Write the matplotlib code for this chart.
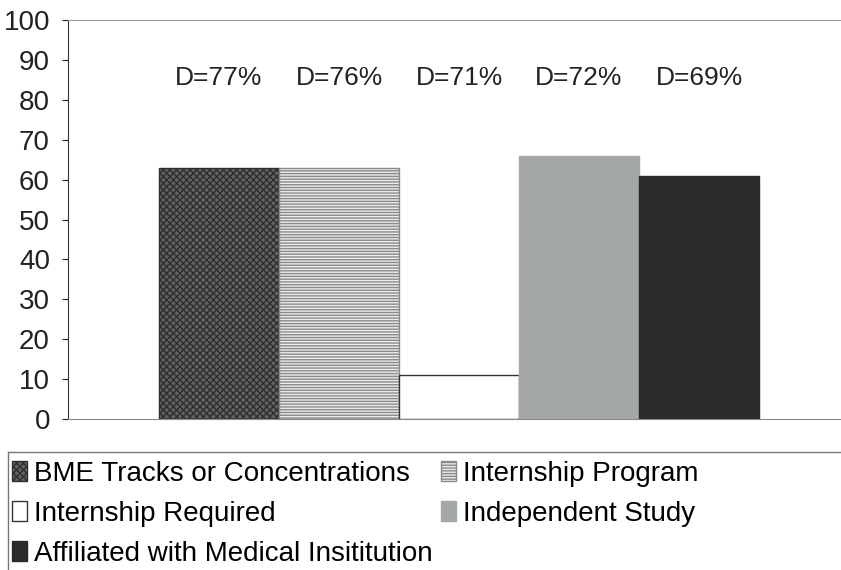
import matplotlib.pyplot as plt
from matplotlib.lines import Line2D
import numpy as np

plt.rcParams['font.family'] = ['Liberation Sans', 'DejaVu Sans']

series = ["BME Tracks or Concentrations", "Internship Program",
          "Internship Required", "Independent Study",
          "Affiliated with Medical Insititution"]
values = [63, 63, 11, 66, 61]
d_labels = ["D=77%", "D=76%", "D=71%", "D=72%", "D=69%"]

faces = ['#626262', '#ececec', 'white', '#a3a7a8', '#2a2a2a']
hatch_cols = ['#2e2e2e', '#8a8a8a', '#333333', '#a3a7a8', '#2a2a2a']
hatches = ['xxxxx', '------', '', '', '']

fig = plt.figure(figsize=(8.41, 5.70), dpi=100)
ax = fig.add_axes([68 / 841, 1 - 419 / 570, 772 / 841, 399 / 570])

# five series in a single category, bars side by side
bar_w = 120
x = 459 - 2 * bar_w + np.arange(len(series)) * bar_w
bars = []
for i, (name, v) in enumerate(zip(series, values)):
    b = ax.bar(x[i], v, width=bar_w, color=faces[i], edgecolor=hatch_cols[i],
               hatch=hatches[i], linewidth=1.0, label=name)
    bars.append(b)
    ax.text(x[i], 85.5, d_labels[i], ha='center', va='center', fontsize=19,
            color='#222222')

ax.set_xlim(68, 840)
ax.set_ylim(0, 100)
ax.set_yticks(range(0, 101, 10))
ax.tick_params(axis='y', labelsize=20, length=4, direction='out', pad=9,
               colors='#222222')
ax.set_xticks([])
ax.spines['right'].set_visible(False)
ax.spines['top'].set_color('#999999')
ax.spines['top'].set_linewidth(0.8)
ax.spines['bottom'].set_color('#888888')
ax.spines['left'].set_color('#333333')

# legend is filled column by column, so reorder to read row by row
order = [0, 2, 4, 1, 3]
leg = fig.legend(handles=[bars[i][0] for i in order],
                 labels=[series[i] for i in order],
                 loc='upper left', bbox_to_anchor=(12 / 841, 1 - 461 / 570),
                 ncol=2, fontsize=20, frameon=False,
                 handlelength=0.55, handleheight=0.75, handletextpad=0.25,
                 columnspacing=0.3, labelspacing=0.5, borderpad=0.0,
                 borderaxespad=0)

# legend box: only the top and left edges show
fig.add_artist(Line2D([8 / 841, 1.0], [1 - 452 / 570] * 2,
                      transform=fig.transFigure, color='#777777', lw=1.0))
fig.add_artist(Line2D([8 / 841] * 2, [0, 1 - 452 / 570],
                      transform=fig.transFigure, color='#777777', lw=1.0))

fig.savefig("out.png", dpi=100, facecolor='white')
plt.close(fig)
